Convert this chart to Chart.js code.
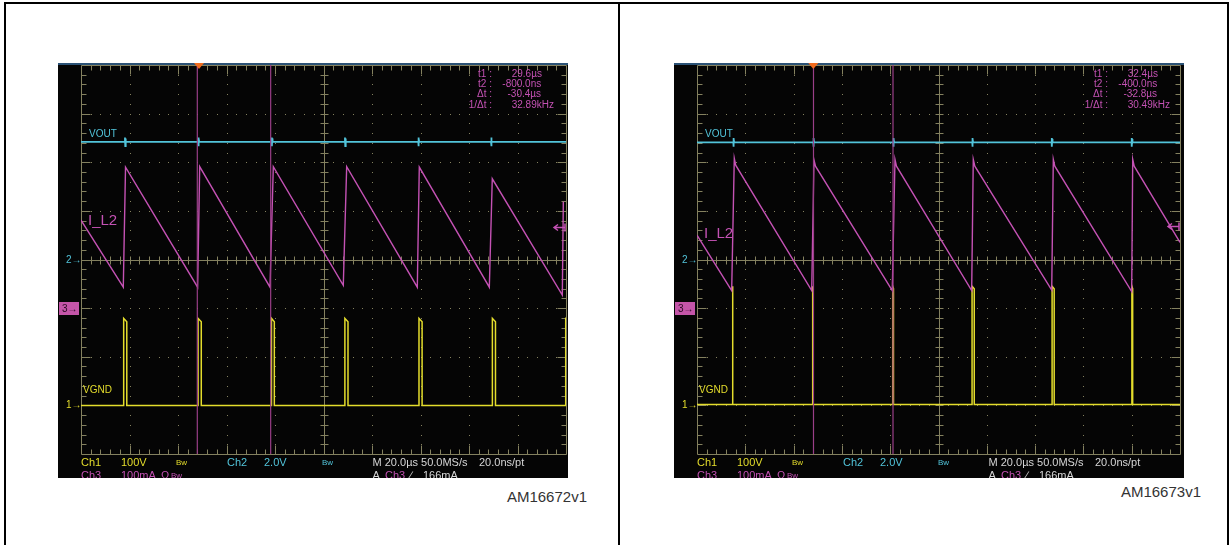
<!DOCTYPE html>
<html>
<head>
<meta charset="utf-8">
<script src="https://cdn.jsdelivr.net/npm/chart.js@4.4.1/dist/chart.umd.min.js"></script>
<style>
  body { margin:0; width:1231px; height:545px; background:#fff; position:relative; overflow:hidden;
         font-family:"Liberation Sans", Arial, sans-serif; }
  .frame { position:absolute; left:4px; top:2px; width:1221px; height:600px; border:2px solid #000; }
  .divider { position:absolute; left:618px; top:2px; width:2px; height:545px; background:#000; }
  .scope { position:absolute; top:63px; width:510px; height:415px; background:#050505; overflow:hidden; }
  .scope .bar { position:absolute; left:0; top:0; width:100%; height:2px; background:#2b5276; }
  .scope canvas { position:absolute; left:21px; top:0; }
  .t { position:absolute; white-space:nowrap; line-height:1; }
  .box3 { position:absolute; width:20px; height:13px; background:#c455a8; color:#2a0a22;
          font-size:10px; line-height:13px; padding-left:3px; box-sizing:border-box; }
</style>
</head>
<body>
<div class="frame"></div>
<div class="divider"></div>
<div class="scope" id="scopeL" style="left:58px"><div class="bar"></div><canvas id="chartL" width="489" height="393"></canvas></div>
<div class="scope" id="scopeR" style="left:674px"><div class="bar"></div><canvas id="chartR" width="487" height="393"></canvas></div>
<script>
// x = time in divisions (0..10), y = divisions from centre line (-4..4)
const IL2_LEFT = [[0,0.81],[0.872,-0.57],[0.918,1.90],[2.405,-0.57],[2.447,1.91],[3.897,-0.57],[3.965,1.91],
  [5.408,-0.53],[5.478,1.91],[6.934,-0.57],[6.975,1.90],[8.419,-0.57],[8.480,1.66],[9.924,-0.73],[9.945,1.19]];
const IL2_RIGHT = [[0,0.50],[0.718,-0.64],[0.772,2.08],[0.801,1.94],[2.375,-0.64],[2.422,2.05],[2.453,1.92],
  [4.043,-0.64],[4.099,2.06],[4.130,1.92],[5.687,-0.64],[5.720,2.06],[5.752,1.92],[7.344,-0.63],[7.377,2.06],
  [7.408,1.92],[9.000,-0.66],[9.021,2.06],[9.052,1.92],[10,0.35]];
const VOUT_LEVEL = [2.42, 2.41];
const VOUT_GLITCH_LEFT = [0.907, 2.419, 3.932, 5.443, 6.955, 8.454];
const VOUT_GLITCH_RIGHT = [0.752, 2.408, 4.064, 5.699, 7.343, 8.998];
const VGND_BASE = [-3.0, -2.98];
const GATE_RISE_LEFT = [0.880, 2.414, 3.928, 5.441, 6.969, 8.482, 9.994];
const GATE_FALL_LEFT = [0.944, 2.480, 3.986, 5.505, 7.033, 8.546];
const GATE_TOP_LEFT = [-1.21, -1.28];
const GATE_RISE_RIGHT = [0.728, 2.385, 4.052, 5.695, 7.352, 9.004];
const GATE_FALL_RIGHT = [0.745, 2.400, 4.068, 5.740, 7.395, 9.020];
const GATE_TOP_RIGHT = [-0.55, -0.6];
const CURSORS_LEFT = [2.398, 3.911];
const CURSORS_RIGHT = [2.412, 4.058];
const TRIGGER = [2.433, 2.408];
const CH3_LEVEL = [0.675, 0.69];
const READ_LABELS = ['t1 :', 't2 :', '\u0394t :', '1/\u0394t :'];
const READ_LEFT = ['29.6\u00b5s', '-800.0ns', '-30.4\u00b5s', '32.89kHz'];
const READ_RIGHT = ['32.4\u00b5s', '-400.0ns', '-32.8\u00b5s', '30.49kHz'];
const FIG_IDS = ['AM16672v1', 'AM16673v1'];

const YEL = '#e4dd2c', CYA = '#52c4da', MAG = '#c452b4', CUR = '#9a3f88', GRID = 'rgb(132,129,95)';

const graticule = {
  id: 'graticule',
  beforeDatasetsDraw(chart) {
    const { ctx, scales: { x, y } } = chart;
    const px = v => Math.round(x.getPixelForValue(v)) + 0.5;
    const py = v => Math.round(y.getPixelForValue(v)) + 0.5;
    ctx.save();
    ctx.strokeStyle = GRID; ctx.fillStyle = GRID; ctx.lineWidth = 1;
    // dotted division lines
    for (let i = 1; i < 10; i++) {
      if (i === 5) continue;
      for (let k = 1; k < 40; k++) ctx.fillRect(px(i) - 0.5, py(-4 + k * 0.2) - 0.5, 1, 1);
    }
    for (let j = 1; j < 8; j++) {
      if (j === 4) continue;
      for (let k = 1; k < 50; k++) ctx.fillRect(px(k * 0.2) - 0.5, py(j - 4) - 0.5, 1, 1);
    }
    ctx.beginPath();
    ctx.rect(px(0), py(4), px(10) - px(0), py(-4) - py(4));
    ctx.moveTo(px(5), py(4)); ctx.lineTo(px(5), py(-4));
    ctx.moveTo(px(0), py(0)); ctx.lineTo(px(10), py(0));
    for (let k = 1; k < 50; k++) {
      const X = px(k * 0.2), L = k % 5 === 0 ? 9 : 5;
      ctx.moveTo(X, py(0) - 4); ctx.lineTo(X, py(0) + 4);
      ctx.moveTo(X, py(4)); ctx.lineTo(X, py(4) + L);
      ctx.moveTo(X, py(-4)); ctx.lineTo(X, py(-4) - L);
    }
    for (let k = 1; k < 40; k++) {
      const Y = py(-4 + k * 0.2), L = k % 5 === 0 ? 9 : 5;
      ctx.moveTo(px(5) - 4, Y); ctx.lineTo(px(5) + 4, Y);
      ctx.moveTo(px(0), Y); ctx.lineTo(px(0) + L, Y);
      ctx.moveTo(px(10), Y); ctx.lineTo(px(10) - L, Y);
    }
    ctx.stroke();
    ctx.restore();
  },
  afterDatasetsDraw(chart, args, opts) {
    const { ctx, chartArea: a, scales: { x, y } } = chart;
    ctx.save();
    // trigger position
    const t = x.getPixelForValue(opts.trigger);
    ctx.fillStyle = '#f26b1d';
    ctx.beginPath(); ctx.moveTo(t - 5, 0); ctx.lineTo(t + 5, 0); ctx.lineTo(t, 6); ctx.closePath(); ctx.fill();
    // ch3 level marker on right edge
    const ay = Math.round(y.getPixelForValue(opts.level)) + 0.5, r = a.right;
    ctx.strokeStyle = MAG; ctx.lineWidth = 1.5;
    ctx.beginPath();
    ctx.moveTo(r - 1, ay); ctx.lineTo(r - 12, ay);
    ctx.moveTo(r - 8, ay - 3); ctx.lineTo(r - 12, ay); ctx.lineTo(r - 8, ay + 3);
    ctx.moveTo(r - 1, ay - 4); ctx.lineTo(r - 1, ay + 4);
    ctx.stroke();
    ctx.restore();
  }
};

function pulseTrain(rise, fall, base, top) {
  const pts = [[0, base]];
  rise.forEach((r, i) => {
    pts.push([r, base], [r, top[0]]);
    if (fall[i] !== undefined) pts.push([fall[i], top[1]], [fall[i], base]);
    else pts.push([10, top[0]]);
  });
  if (fall.length === rise.length) pts.push([10, base]);
  return pts;
}

function withGlitches(level, glitches) {
  const pts = [[0, level]];
  glitches.forEach(g => pts.push([g, level], [g, level + 0.09], [g + 0.006, level - 0.09],
    [g + 0.012, level + 0.07], [g + 0.018, level]));
  pts.push([10, level]);
  return pts;
}

function makeScope(canvas, p) {
  const line = (data, color, width, order) => ({
    data: data.map(([x, y]) => ({ x, y })), borderColor: color, borderWidth: width,
    pointRadius: 0, tension: 0, fill: false, order
  });
  return new Chart(canvas, {
    type: 'line',
    data: {
      datasets: [
        line([[p.cursors[0], -4], [p.cursors[0], 4]], CUR, 1.2, 0),
        line([[p.cursors[1], -4], [p.cursors[1], 4]], CUR, 1.2, 0),
        line(p.il2, MAG, 1.4, 1),
        line(withGlitches(p.vout, p.glitch), CYA, 1.8, 2),
        line(pulseTrain(p.rise, p.fall, p.base, p.top), YEL, 1.5, 3)
      ]
    },
    options: {
      responsive: false, animation: false, events: [],
      layout: { padding: 2 },
      scales: {
        x: { type: 'linear', min: 0, max: 10, display: false },
        y: { type: 'linear', min: -4, max: 4, display: false }
      },
      plugins: {
        legend: { display: false }, tooltip: { enabled: false },
        graticule: { trigger: p.trigger, level: p.level }
      }
    },
    plugins: [graticule]
  });
}

function txt(parent, s, x, y, size, color, right) {
  const d = document.createElement('div');
  d.className = 't';
  d.textContent = s;
  d.style.fontSize = size + 'px';
  d.style.color = color;
  d.style.top = (y - size * 0.55) + 'px';
  if (right) d.style.right = (parent.clientWidth - x) + 'px'; else d.style.left = x + 'px';
  parent.appendChild(d);
  return d;
}

function decorate(scope, reads, il2y, g) {
  // g = grid left inside the scope box
  txt(scope, 'VOUT', g + 8, 71, 10, CYA);
  txt(scope, 'I_L2', g + 7, il2y, 15, MAG);
  txt(scope, 'VGND', g + 2, 327, 10, YEL);
  txt(scope, '2\u2192', 8, 197, 10, CYA);
  txt(scope, '1\u2192', 8, 342, 10, YEL);
  const b = document.createElement('div');
  b.className = 'box3'; b.textContent = '3\u2192'; b.style.left = '1px'; b.style.top = '239px';
  scope.appendChild(b);
  const vx = [430.7, 421.3, 426.5, 430.7];
  READ_LABELS.forEach((s, i) => {
    const y = [11, 21.5, 31.5, 42][i];
    txt(scope, s, g + 411, y, 10, MAG, true);
    txt(scope, reads[i], g + vx[i], y, 10, MAG);
  });
  const W = '#d6d6d6';
  const row1 = [['Ch1', 0, YEL, 11], ['100V', 40, YEL, 11], ['Bw', 95, YEL, 8], ['Ch2', 146, CYA, 11],
    ['2.0V', 183, CYA, 11], ['Bw', 241, CYA, 8], ['M 20.0\u00b5s 50.0MS/s', 291.5, W, 11], ['20.0ns/pt', 398, W, 11]];
  const row2 = [['Ch3', 0, MAG, 11], ['100mA', 40, MAG, 11], ['\u03a9', 80, MAG, 11], ['Bw', 90, MAG, 8],
    ['A', 291.5, W, 11], ['Ch3', 304, MAG, 11], ['\u2215', 329, W, 11], ['166mA', 342, W, 11]];
  row1.forEach(([s, x, c, f]) => txt(scope, s, g + x, 400.5, f, c));
  row2.forEach(([s, x, c, f]) => txt(scope, s, g + x, 413.5, f, c));
}

makeScope(document.getElementById('chartL'), {
  il2: IL2_LEFT, vout: VOUT_LEVEL[0], glitch: VOUT_GLITCH_LEFT, base: VGND_BASE[0],
  rise: GATE_RISE_LEFT, fall: GATE_FALL_LEFT, top: GATE_TOP_LEFT, cursors: CURSORS_LEFT,
  trigger: TRIGGER[0], level: CH3_LEVEL[0]
});
makeScope(document.getElementById('chartR'), {
  il2: IL2_RIGHT, vout: VOUT_LEVEL[1], glitch: VOUT_GLITCH_RIGHT, base: VGND_BASE[1],
  rise: GATE_RISE_RIGHT, fall: GATE_FALL_RIGHT, top: GATE_TOP_RIGHT, cursors: CURSORS_RIGHT,
  trigger: TRIGGER[1], level: CH3_LEVEL[1]
});

decorate(document.getElementById('scopeL'), READ_LEFT, 157, 23);
decorate(document.getElementById('scopeR'), READ_RIGHT, 170, 23);

txt(document.body, FIG_IDS[0], 587, 497, 15, '#333', true);
txt(document.body, FIG_IDS[1], 1201, 492, 15, '#333', true);
</script>
</body>
</html>
